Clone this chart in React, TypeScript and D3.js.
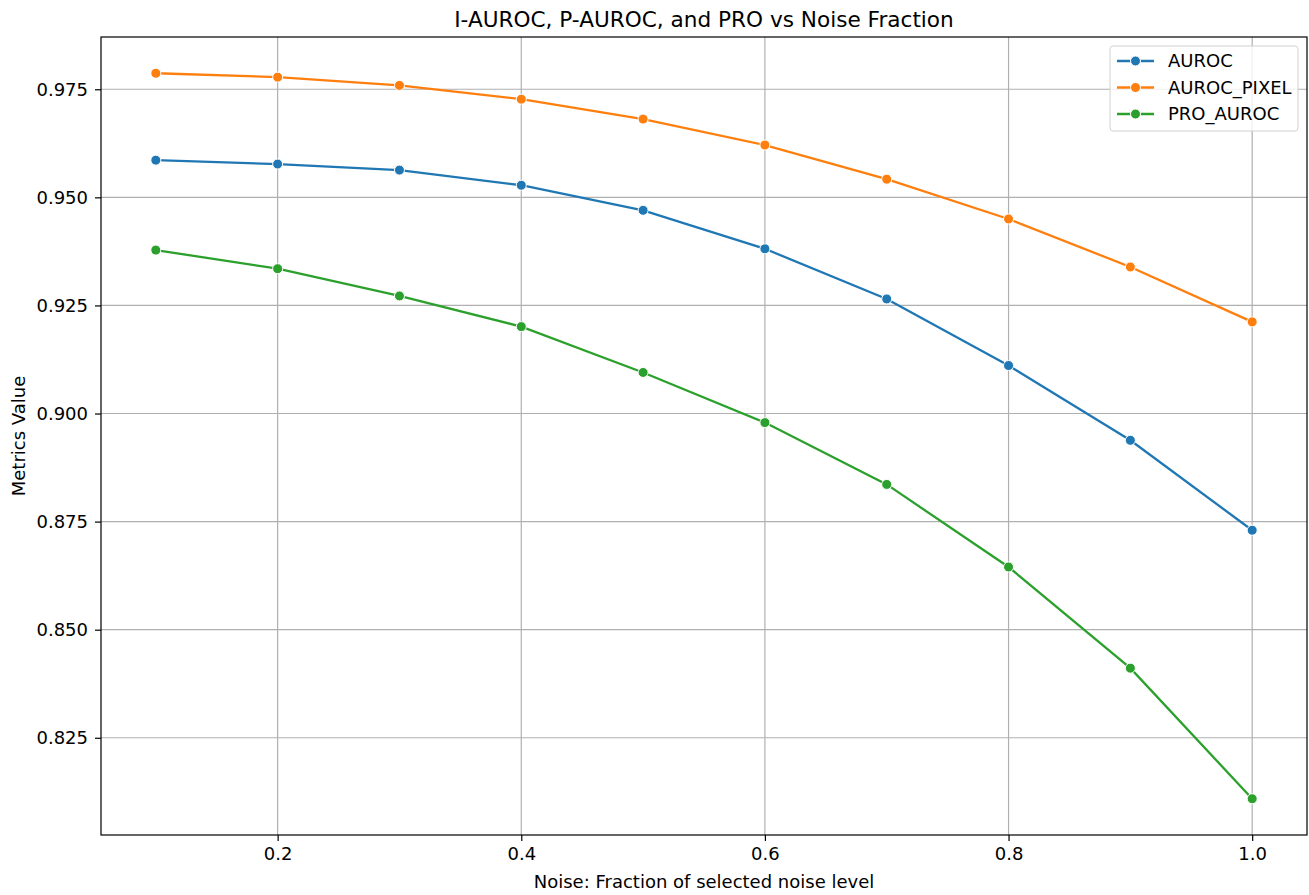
import React, { useRef, useEffect } from "react";
import * as d3 from "d3";

const noise = [0.1, 0.2, 0.3, 0.4, 0.5, 0.6, 0.7, 0.8, 0.9, 1.0];
const auroc = [0.9586, 0.9577, 0.9563, 0.9528, 0.947, 0.9381, 0.9265, 0.9111, 0.8938, 0.873];
const aurocPixel = [0.9787, 0.9778, 0.9759, 0.9727, 0.9681, 0.9621, 0.9542, 0.945, 0.9339, 0.9212];
const proAuroc = [0.9378, 0.9335, 0.9272, 0.9201, 0.9095, 0.8979, 0.8836, 0.8645, 0.8411, 0.8109];
const xTicks = [0.2, 0.4, 0.6, 0.8, 1.0];
const yTicks = [0.825, 0.85, 0.875, 0.9, 0.925, 0.95, 0.975];

const series = [
  { name: "AUROC", values: auroc, color: "#1f77b4" },
  { name: "AUROC_PIXEL", values: aurocPixel, color: "#ff7f0e" },
  { name: "PRO_AUROC", values: proAuroc, color: "#2ca02c" },
];

export default function App() {
  const svgRef = useRef<SVGSVGElement>(null);

  useEffect(() => {
    const svg = d3.select(svgRef.current);
    svg.selectAll("*").remove();

    const width = 1309;
    const height = 895;
    const m = { left: 101, right: 1307, top: 37, bottom: 835 };
    const font = "DejaVu Sans, sans-serif";
    const fs = "18px";

    svg.attr("width", width).attr("height", height);

    const all = series.flatMap(s => s.values);
    const [ymin, ymax] = d3.extent(all) as [number, number];
    const ypad = (ymax - ymin) * 0.05;
    const xpad = (1.0 - 0.1) * 0.05;

    const x = d3.scaleLinear().domain([0.1 - xpad, 1.0 + xpad]).range([m.left, m.right]);
    const y = d3.scaleLinear().domain([ymin - ypad, ymax + ypad]).range([m.bottom, m.top]);

    svg.append("rect").attr("width", width).attr("height", height).attr("fill", "white");

    // grid
    const grid = svg.append("g").attr("stroke", "#b0b0b0").attr("stroke-width", 1.2);
    grid.selectAll("line.gx").data(xTicks).join("line")
      .attr("x1", d => x(d)).attr("x2", d => x(d)).attr("y1", m.top).attr("y2", m.bottom);
    grid.selectAll("line.gy").data(yTicks).join("line")
      .attr("class", "gy")
      .attr("y1", d => y(d)).attr("y2", d => y(d)).attr("x1", m.left).attr("x2", m.right);

    // axes
    const xAxis = d3.axisBottom(x).tickValues(xTicks).tickFormat(d3.format(".1f")).tickSize(6).tickPadding(6);
    const yAxis = d3.axisLeft(y).tickValues(yTicks).tickFormat(d3.format(".3f")).tickSize(6).tickPadding(7);

    const gx = svg.append("g").attr("transform", `translate(0,${m.bottom})`).call(xAxis);
    const gy = svg.append("g").attr("transform", `translate(${m.left},0)`).call(yAxis);
    [gx, gy].forEach(g => {
      g.select(".domain").remove();
      g.selectAll("line").attr("stroke", "#000").attr("stroke-width", 1.2);
      g.selectAll("text").attr("fill", "#000").style("font-family", font).style("font-size", fs);
    });

    // lines + markers
    const line = d3.line<number>().x((d, i) => x(noise[i])).y(d => y(d));
    series.forEach(s => {
      svg.append("path")
        .datum(s.values)
        .attr("d", line)
        .attr("fill", "none")
        .attr("stroke", s.color)
        .attr("stroke-width", 2.3);
      svg.append("g").selectAll("circle").data(s.values).join("circle")
        .attr("cx", (d, i) => x(noise[i]))
        .attr("cy", d => y(d))
        .attr("r", 5)
        .attr("fill", s.color)
        .attr("stroke", "white")
        .attr("stroke-width", 1);
    });

    // frame
    svg.append("rect")
      .attr("x", m.left).attr("y", m.top)
      .attr("width", m.right - m.left).attr("height", m.bottom - m.top)
      .attr("fill", "none").attr("stroke", "#000").attr("stroke-width", 1.2);

    // title & labels
    svg.append("text")
      .attr("x", (m.left + m.right) / 2).attr("y", 27)
      .attr("text-anchor", "middle")
      .style("font-family", font).style("font-size", "21.6px")
      .text("I-AUROC, P-AUROC, and PRO vs Noise Fraction");

    svg.append("text")
      .attr("x", (m.left + m.right) / 2).attr("y", 888)
      .attr("text-anchor", "middle")
      .style("font-family", font).style("font-size", fs)
      .text("Noise: Fraction of selected noise level");

    svg.append("text")
      .attr("transform", `translate(25,${(m.top + m.bottom) / 2}) rotate(-90)`)
      .attr("text-anchor", "middle")
      .style("font-family", font).style("font-size", fs)
      .text("Metrics Value");

    // legend
    const legend = svg.append("g");
    legend.append("rect")
      .attr("x", 1110).attr("y", 46).attr("width", 188).attr("height", 85)
      .attr("rx", 3).attr("fill", "white").attr("fill-opacity", 0.8)
      .attr("stroke", "#d0d0d0").attr("stroke-width", 1);
    const items = legend.selectAll("g.item").data(series).join("g")
      .attr("transform", (d, i) => `translate(1117,${61 + i * 26.5})`);
    items.append("line")
      .attr("x1", 0).attr("x2", 37)
      .attr("stroke", d => d.color).attr("stroke-width", 2.3);
    items.append("circle")
      .attr("cx", 18.5).attr("r", 5)
      .attr("fill", d => d.color).attr("stroke", "white").attr("stroke-width", 1);
    items.append("text")
      .attr("x", 51).attr("dy", "0.35em")
      .style("font-family", font).style("font-size", fs)
      .text(d => d.name);
  }, []);

  return (
    <div style={{ position: "absolute", left: 0, top: 0 }}>
      <svg ref={svgRef} style={{ display: "block" }} />
    </div>
  );
}
